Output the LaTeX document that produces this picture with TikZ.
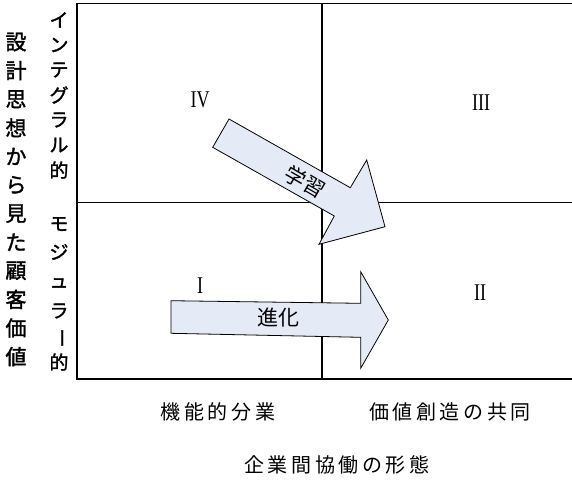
\documentclass[tikz,border=0pt]{standalone}
\usepackage{fontspec}
\usepackage{graphicx}
\setmainfont{Noto Sans CJK JP}
\newfontfamily\jpheavy[FakeBold=1.6]{Noto Sans CJK JP}
\newfontfamily\romfont{Liberation Serif}
\definecolor{arrowfill}{RGB}{228,234,246}
\tikzset{
  gridline/.style={line width=1.2pt, black},
  bigarrow/.style={draw=black, line width=0.8pt, fill=arrowfill, line join=miter},
  roman/.style={font=\romfont\fontsize{24}{24}\selectfont, inner sep=0pt},
  vlab/.style={font=\jpheavy\fontsize{21}{21}\selectfont, inner sep=0pt},
  vlabb/.style={font=\jpheavy\fontsize{19}{19}\selectfont, inner sep=0pt},
  hlab/.style={font=\fontsize{20}{20}\selectfont\addfontfeature{LetterSpace=18}, inner sep=0pt},
  arrlab/.style={font=\fontsize{21}{21}\selectfont, inner sep=0pt},
}
\begin{document}
\begin{tikzpicture}[x=1pt,y=-1pt]
\useasboundingbox (0,0) rectangle (572,483);
% frame and dividers
\draw[gridline] (572,3.5) -- (77,3.5) -- (77,379) -- (572,379);
\draw[gridline] (322,3.5) -- (322,379);
\draw[gridline] (77,202.5) -- (572,202.5);
% quadrant numbers
\node[roman] (q4) at (200,100) {\scalebox{0.75}[1]{IV}};
\node[roman] (q3) at (481,103) {\scalebox{0.75}[1]{III}};
\node[roman] (q1) at (200,286) {\scalebox{0.75}[1]{I}};
\node[roman] (q2) at (480,293) {\scalebox{0.75}[1]{II}};
% arrows
\draw[bigarrow] (229,119) -- (350.3,187.7) -- (366.7,160) -- (385,226.7)
  -- (319,244.3) -- (334.3,216) -- (212.7,147.3) -- cycle;
\node[arrlab, rotate=-30] (learn) at (305,182) {学習};
\draw[bigarrow] (171,300.7) -- (360.7,303.3) -- (360.7,271.7) -- (388.3,320)
  -- (360.7,368.3) -- (360.7,337.3) -- (171,333.3) -- cycle;
\node[arrlab] (evol) at (278,318) {進化};
% left vertical title
\foreach \c [count=\i] in {設,計,思,想,か,ら,見,た,顧,客,価,値}
  \node[vlab] (t\i) at (16,{42+(\i-1)*28.6}) {\c};
% integral
\foreach \c [count=\i] in {イ,ン,テ,グ,ラ,ル,的}
  \node[vlabb] (a\i) at (59,{20+(\i-1)*25}) {\c};
% modular
\node[vlabb] (m1) at (59,224) {モ};
\node[vlabb] (m2) at (59,252) {ジ};
\node[vlabb] (m3) at (59,283) {ュ};
\node[vlabb] (m4) at (59,311) {ラ};
\node[vlabb] (m5) at (59,338) {\rotatebox{-90}{ー}};
\node[vlabb] (m6) at (59,362) {的};
% bottom labels
\node[hlab] (x1) at (218,412) {機能的分業};
\node[hlab] (x2) at (450,412) {価値創造の共同};
\node[hlab] (xt) at (337,465) {企業間協働の形態};
\end{tikzpicture}
\end{document}
